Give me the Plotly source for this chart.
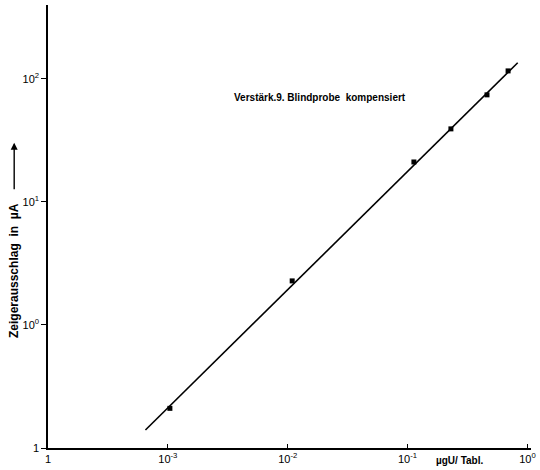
import plotly.graph_objects as go

# measured points (x in µg U / Tabl., y in µA)
pts_x = [0.00104, 0.0109, 0.113, 0.23, 0.46, 0.69]
pts_y = [0.21, 2.28, 21.1, 39.2, 74.1, 116]

# fitted straight line (end points)
fit_x = [0.00065, 0.83]
fit_y = [0.14, 135]

x_tickvals = [1e-4, 1e-3, 1e-2, 1e-1, 1]
x_ticktext = ["1", "10<sup>-3</sup>", "10<sup>-2</sup>", "10<sup>-1</sup>", "10<sup>0</sup>"]
y_tickvals = [1e-1, 1, 10, 100]
y_ticktext = ["1", "10<sup>0</sup>", "10<sup>1</sup>", "10<sup>2</sup>"]

fig = go.Figure()
fig.add_trace(go.Scatter(x=fit_x, y=fit_y, mode="lines",
                         line=dict(color="black", width=1.6), showlegend=False))
fig.add_trace(go.Scatter(x=pts_x, y=pts_y, mode="markers",
                         marker=dict(color="black", size=5, symbol="square"), showlegend=False))

font = "Liberation Sans, Arial, sans-serif"
fig.update_layout(
    width=540, height=470,
    margin=dict(l=48, r=9, t=5, b=22),
    paper_bgcolor="white", plot_bgcolor="white",
    font=dict(family=font, size=10, color="black"),
    xaxis=dict(type="log", range=[-4, 0.03], tickvals=x_tickvals, ticktext=x_ticktext,
               showgrid=False, zeroline=False, showline=True, linecolor="black", linewidth=1.5,
               ticks="inside", ticklen=4, tickcolor="black", tickfont=dict(size=11)),
    yaxis=dict(type="log", range=[-1, 2.6], tickvals=y_tickvals, ticktext=y_ticktext,
               showgrid=False, zeroline=False, showline=True, linecolor="black", linewidth=1.5,
               ticks="outside", ticklen=5, tickcolor="black", tickfont=dict(size=11)),
    annotations=[
        dict(x=-2.464, y=1.846, xref="x", yref="y", text="<b>Verstärk.9. Blindprobe  kompensiert</b>",
             showarrow=False, xanchor="left", yanchor="middle", font=dict(size=10)),
        dict(x=-0.07, y=0.40, xref="paper", yref="paper", text="<b>Zeigerausschlag  in  µA</b>",
             textangle=-90, showarrow=False, xanchor="center", yanchor="middle", font=dict(size=12)),
        dict(x=-0.07, y=0.689, xref="paper", yref="paper", text="", showarrow=True,
             ax=0, ay=48, arrowhead=2, arrowsize=1, arrowwidth=1.4, arrowcolor="black"),
        dict(x=-0.564, y=-0.029, xref="x", yref="paper", text="<b>µgU/ Tabl.</b>",
             showarrow=False, xanchor="center", yanchor="middle", font=dict(size=10)),
    ],
)

fig.write_html("out.html")
